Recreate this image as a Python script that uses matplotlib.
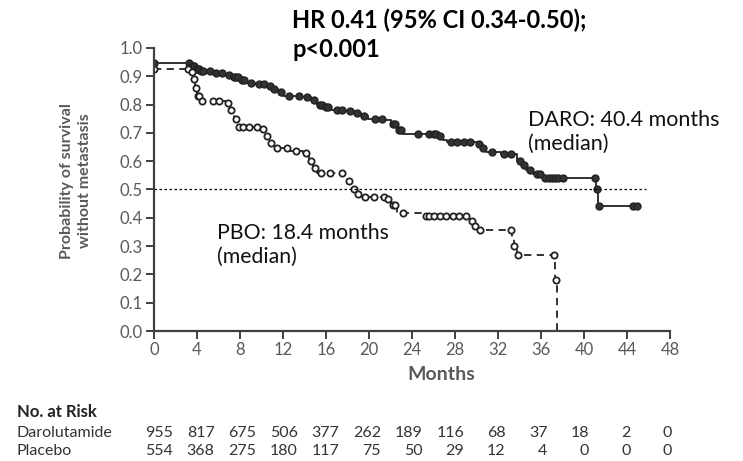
import matplotlib
matplotlib.use("Agg")
import matplotlib.pyplot as plt
import numpy as np

plt.rcParams["font.family"] = ["Lato", "DejaVu Sans"]

# Kaplan-Meier step curves (month of drop, survival after drop)
daro_t = [0, 3.4, 3.8, 4.3, 5.5, 6.5, 7.2, 8.0, 8.6, 9.4, 10.5, 11.0, 11.5, 12.0,
          13.8, 14.6, 15.2, 15.8, 16.5, 17.8, 18.6, 19.3, 19.9, 21.5, 22.0, 22.6,
          23.2, 26.4, 26.9, 27.3, 30.0, 30.4, 30.9, 32.3, 33.8, 34.2, 34.6, 35.3,
          36.2, 41.1, 41.3, 45.0]
daro_s = [0.947, 0.935, 0.925, 0.918, 0.910, 0.905, 0.897, 0.888, 0.878, 0.872,
          0.866, 0.855, 0.843, 0.832, 0.826, 0.815, 0.800, 0.790, 0.782, 0.777,
          0.770, 0.760, 0.750, 0.745, 0.730, 0.712, 0.697, 0.690, 0.675, 0.668,
          0.660, 0.645, 0.632, 0.625, 0.600, 0.585, 0.570, 0.555, 0.540, 0.500,
          0.440, 0.440]

pbo_t = [0, 3.4, 3.6, 3.8, 4.0, 4.3, 6.8, 7.1, 7.4, 7.8, 10.0, 10.3, 10.7, 11.2,
         12.5, 13.9, 14.4, 14.8, 15.2, 17.7, 18.0, 18.4, 18.9, 19.3, 21.6, 22.0,
         22.6, 25.0, 29.5, 29.8, 30.1, 33.3, 33.5, 33.8, 37.3, 37.5]
pbo_s = [0.926, 0.915, 0.890, 0.860, 0.830, 0.812, 0.805, 0.780, 0.750, 0.722,
         0.715, 0.690, 0.665, 0.645, 0.635, 0.628, 0.600, 0.575, 0.557, 0.550,
         0.530, 0.500, 0.485, 0.475, 0.465, 0.445, 0.416, 0.405, 0.390, 0.370,
         0.357, 0.330, 0.300, 0.268, 0.180, 0.0]

# censoring marks (months)
daro_cens = [0, 3.3, 3.5, 3.6, 3.7, 3.9, 4.0, 4.1, 4.2, 4.4, 4.6, 5.2, 5.8, 6.3,
             7.0, 7.4, 7.6, 7.8, 8.2, 8.4, 9.0, 9.8, 10.2, 10.8, 11.2, 11.8, 12.6,
             13.5, 14.2, 14.9, 15.4, 15.6, 16.0, 16.2, 17.0, 17.5, 18.2, 18.9,
             19.5, 20.6, 21.2, 22.2, 22.4, 22.8, 23.0, 24.6, 25.6, 26.0, 26.2,
             26.6, 27.6, 28.2, 28.8, 29.4, 30.2, 30.6, 31.4, 32.6, 33.2, 34.0,
             34.4, 35.0, 35.6, 35.9, 36.4, 36.7, 37.0, 37.3, 37.6, 38.0, 41.0,
             41.2, 41.4, 44.6, 44.9]
pbo_cens = [0, 3.2, 3.5, 3.7, 3.9, 4.1, 4.2, 4.5, 5.5, 6.0, 6.9, 7.2, 7.6, 7.9,
            8.3, 8.8, 9.6, 10.1, 10.5, 10.9, 11.4, 12.4, 13.2, 14.1, 14.6, 15.0,
            15.5, 16.4, 17.5, 18.1, 18.6, 19.0, 19.6, 20.5, 21.4, 21.8, 22.2, 22.4,
            23.2, 25.3, 25.6, 26.0, 26.6, 27.2, 27.8, 28.4, 29.0, 29.6, 29.9,
            30.3, 33.2, 33.5, 33.9, 37.2, 37.4]

daro_risk = [955, 817, 675, 506, 377, 262, 189, 116, 68, 37, 18, 2, 0]
pbo_risk = [554, 368, 275, 180, 117, 75, 50, 29, 12, 4, 0, 0, 0]


def step_value(t, s, x):
    idx = np.searchsorted(np.array(t), np.array(x), side="right") - 1
    return np.array(s)[np.clip(idx, 0, len(s) - 1)]


W, H = 743, 461
fig = plt.figure(figsize=(W / 100, H / 100), dpi=100)
ax = fig.add_axes([154 / W, 1 - 331 / H, 516 / W, 283 / H])

dark = "#222222"
ax.plot(daro_t, daro_s, drawstyle="steps-post", color=dark, lw=1.3)
ax.plot(daro_cens, step_value(daro_t, daro_s, daro_cens), "o", ms=5,
        color=dark, mec=dark, mfc="#333333", mew=1)
ax.plot(pbo_t, pbo_s, drawstyle="steps-post", color=dark, lw=1.3,
        dashes=(4, 3))
ax.plot(pbo_cens, step_value(pbo_t, pbo_s, pbo_cens), "o", ms=4.5,
        color=dark, mec=dark, mfc="white", mew=1.3)

ax.plot([0, 45.8], [0.5, 0.5], color="black", lw=0.9, ls=(0, (2, 2)))

ax.set_xlim(0, 48)
ax.set_ylim(0, 1)
ax.set_xticks(np.arange(0, 49, 4))
ax.set_yticks(np.arange(0, 1.01, 0.1))
ax.set_yticklabels([f"{v:.1f}" for v in np.arange(0, 1.01, 0.1)])
for side in ["top", "right"]:
    ax.spines[side].set_visible(False)
for side in ["left", "bottom"]:
    ax.spines[side].set_color("#404040")
    ax.spines[side].set_linewidth(1.6)
ax.tick_params(direction="out", length=6, width=1.4, color="#404040",
               labelcolor="#595959", labelsize=12, pad=2)

ax.set_ylabel("Probability of survival\nwithout metastasis", fontsize=11.5,
              fontweight="bold", color="#595959", linespacing=1.4)
ax.yaxis.set_label_coords(-0.12, 0.53)
ax.set_xlabel("Months", fontsize=14, fontweight="bold", color="#595959")
ax.xaxis.set_label_coords(0.556, -0.125)

fig.text(292 / W, 1 - 9 / H, "HR 0.41 (95% CI 0.34-0.50);\np<0.001",
         fontsize=17, fontweight="bold", color="black", va="top",
         linespacing=1.3)

ax.text(34.8, 0.78, "DARO: 40.4 months\n(median)", fontsize=15.5,
        color="#111111", va="top", linespacing=1.25)
ax.text(5.85, 0.383, "PBO: 18.4 months\n(median)", fontsize=15.3,
        color="#111111", va="top", linespacing=1.25)

# No. at Risk table (own column grid under the plot)
fs = 11.5
fig.text(17 / W, 1 - 412 / H, "No. at Risk", fontsize=fs + 0.5,
         fontweight="bold", color="#222222", va="center")
fig.text(17 / W, 1 - 433 / H, "Darolutamide", fontsize=fs,
         color="#333333", va="center")
fig.text(17 / W, 1 - 451 / H, "Placebo", fontsize=fs,
         color="#333333", va="center")
for k, (d, p) in enumerate(zip(daro_risk, pbo_risk)):
    xr = (173 + 41.6 * k) / W
    fig.text(xr, 1 - 433 / H, str(d), ha="right", va="center",
             fontsize=fs, color="#333333")
    fig.text(xr, 1 - 451 / H, str(p), ha="right", va="center",
             fontsize=fs, color="#333333")

fig.savefig("out.png", dpi=100)
